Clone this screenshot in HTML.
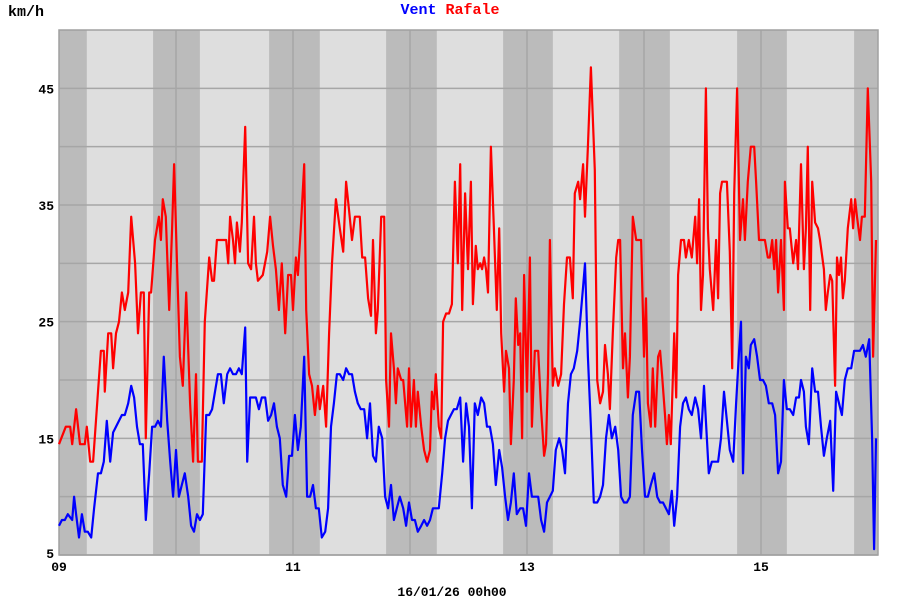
<!DOCTYPE html>
<html><head><meta charset="utf-8"><style>
body{margin:0;background:#fff;}
svg{display:block;font-family:"Liberation Mono",monospace;font-weight:bold;}
</style></head><body>
<svg id="chart" width="900" height="600" xmlns="http://www.w3.org/2000/svg">
<text x="8" y="16" font-size="15">km/h</text>
<text x="450" y="14" font-size="15" text-anchor="middle"><tspan fill="#0000ff">Vent</tspan> <tspan fill="#ff0000">Rafale</tspan></text>
<g id="plot"></g>
<text x="452" y="596" font-size="13" text-anchor="middle">16/01/26 00h00</text>
</svg>
<script>
// hours since 09 00h00
const nightStart=[-5,19.3,43.1,67.1,91.1,114.9,139.1,163.1];
const nightEnd=[5.7,28.9,53.5,77.5,101.3,125.3,149.3,173];
const yTicks=[5,15,25,35,45];
const xTickLabels=["09","11","13","15"];
const xTickHours=[0,48,96,144];
const gustT=[0,1.4,2.3,2.7,3.5,4.3,5.3,5.7,6.4,7.0,8.0,8.6,9.2,9.4,10.1,10.7,11.1,11.7,12.3,12.9,13.5,14.2,14.8,15.6,16.2,16.8,17.4,17.8,18.5,18.9,19.7,20.5,20.9,21.3,21.9,22.6,23.2,23.6,24.2,24.8,25.4,26.1,26.9,27.5,28.1,28.5,29.3,29.9,30.8,31.4,31.8,32.4,33.2,34.3,34.7,35.1,35.7,36.1,36.5,37.1,37.5,38.2,38.8,39.4,40.0,40.4,40.8,41.8,42.7,43.3,43.9,44.5,45.1,45.7,46.4,47.0,47.6,48.0,48.6,49.0,49.6,50.3,50.7,51.3,51.9,52.5,53.1,53.5,54.2,54.8,55.4,56.0,56.8,57.6,58.3,58.9,59.5,60.1,60.7,61.7,62.2,62.8,63.4,64.0,64.4,65.0,65.4,66.1,66.7,67.1,67.7,68.1,68.7,69.1,69.5,70.2,70.6,71.4,71.8,72.2,72.8,73.2,73.6,74.3,74.9,75.5,76.1,76.5,76.9,77.3,77.9,78.4,78.8,79.4,80.0,80.6,81.2,81.8,82.3,82.7,83.3,83.9,84.5,84.9,85.5,85.9,86.4,86.8,87.2,87.6,88.0,88.6,89.2,89.8,90.3,90.7,91.3,91.7,92.3,92.7,93.3,93.7,94.2,94.6,95.0,95.4,96.0,96.6,97.0,97.6,98.3,98.9,99.5,99.9,100.3,100.7,101.3,101.7,102.4,103.0,103.6,104.2,104.8,105.4,105.8,106.5,106.9,107.5,107.9,108.5,109.1,109.9,110.4,111.0,111.6,112.0,112.6,113.0,113.6,114.3,114.7,115.1,115.7,116.1,116.7,117.1,117.7,118.4,119.0,119.4,120.0,120.4,120.8,121.4,121.8,122.3,122.9,123.3,123.7,124.3,124.7,125.1,125.5,126.2,126.6,127.0,127.6,128.2,128.6,129.2,129.8,130.5,130.9,131.3,131.7,132.1,132.7,133.1,133.5,134.2,134.8,135.2,135.6,136.0,136.6,137.0,137.6,138.1,138.5,139.1,139.7,140.3,140.7,141.3,141.9,142.6,143.0,143.6,144.2,144.8,145.4,145.8,146.3,146.7,147.1,147.5,148.1,148.7,148.9,149.5,149.9,150.6,151.2,151.6,152.2,152.8,153.2,153.6,154.1,154.5,155.1,155.7,156.1,156.9,157.3,157.7,158.2,158.6,159.2,159.6,160.0,160.4,160.8,161.2,161.8,162.5,162.9,163.3,163.7,164.3,164.7,165.3,165.9,166.6,167.0,167.6];
const gustV=[14.5,16,16,14.5,17.5,14.5,14.5,16,13,13,19,22.5,22.5,19,24,24,21,24,25,27.5,26,27.5,34,30,24,27.5,27.5,15,27.5,27.5,32,34,32,35.5,34,26,33,38.5,30,22,19.5,27.5,18,13,20.5,13,13,25,30.5,28.5,28.5,32,32,32,30,34,32,30,33.5,31,33.5,41.7,30,29.5,34,30,28.5,29,31,34,31.5,29.5,26,30,24,29,29,26,30.5,29,33,38.5,26,20.5,19.5,17,19.5,17.5,19.5,16,24,30,35.5,33,31,37,34.5,32,34,34,30.5,30.5,27,25.5,32,24,26,34,34,20,16,24,21,18,21,20,20,16,21,16,20,16,19,16,14,13,14,19,17.5,20.5,16,15,25,25.7,25.7,26.5,37,30,38.5,26,36,29.5,37,26.5,31.5,29.5,30,29.5,30.5,29.5,27.5,40,33,26,33,24,19,22.5,21,14.5,20,27,23,24,15,29,19,30.5,16,22.5,22.5,17.5,13.5,14.5,20.5,32,19.5,21,19.5,20.5,26.5,30.5,30.5,27,36,37,35.5,38.5,34,40,46.8,38,20,18,19,23,20.5,17.5,24,30.5,32,32,21,24,18.5,22,34,32,32,32,22,27,18,16,21,16,22,22.5,20.5,17,14.5,17,14.5,24,18.5,29,32,32,30.5,32,30.5,34,30,35.5,26,29,45,33,29.5,26,32,27,36,37,37,37,31,21,36,45,32,35.5,32,37,40,40,37,32,32,32,30.5,30.5,32,29.5,32,27.5,32,26,37,33,33,30,32,29.5,38.5,29.5,33,40,26,37,33.5,33,32,29.5,26,27.5,29,28.5,19.5,30.5,29,30.5,27,28.5,33,35.5,33,35.5,34,32,34,34,45,37,22,32];
const windT=[0,0.6,1.2,1.8,2.7,3.1,3.5,4.1,4.7,5.3,5.9,6.6,7.2,8.0,8.6,9.2,9.8,10.5,11.1,11.7,12.3,12.9,13.5,14.2,14.8,15.4,16.0,16.6,17.2,17.8,18.5,19.1,19.7,20.3,20.9,21.5,22.2,22.8,23.4,24.0,24.6,25.2,25.8,26.5,27.1,27.7,28.3,28.9,29.5,30.2,30.8,31.4,32.0,32.6,33.2,33.8,34.5,35.1,35.7,36.3,36.9,37.5,38.2,38.6,39.2,39.8,40.4,41.0,41.6,42.3,42.9,43.5,44.1,44.7,45.3,45.9,46.6,47.2,47.8,48.4,49.0,49.6,50.3,50.9,51.5,52.1,52.7,53.3,53.9,54.6,55.2,55.8,56.4,57.0,57.6,58.3,58.9,59.5,60.1,60.7,61.3,61.9,62.6,63.2,63.8,64.4,65.0,65.6,66.3,66.9,67.5,68.1,68.7,69.3,69.9,70.6,71.2,71.8,72.4,73.0,73.6,74.3,74.9,75.5,76.1,76.7,77.3,77.9,78.6,79.2,79.8,80.4,81.0,81.6,82.3,82.9,83.5,84.1,84.7,85.3,85.9,86.6,87.2,87.8,88.4,89.0,89.6,90.3,90.9,91.5,92.1,92.7,93.3,93.9,94.6,95.2,95.8,96.4,97.0,97.6,98.3,98.9,99.5,100.1,100.7,101.3,101.9,102.6,103.2,103.8,104.4,105.0,105.6,106.3,106.9,107.5,107.9,108.5,109.1,109.7,110.4,111.0,111.6,112.2,112.8,113.4,114.1,114.7,115.3,115.9,116.5,117.1,117.7,118.4,119.0,119.6,120.2,120.8,121.4,122.1,122.7,123.3,123.9,124.5,125.1,125.7,126.2,126.8,127.4,128.0,128.6,129.2,129.8,130.5,131.1,131.7,132.3,132.7,133.3,133.9,134.6,135.2,135.8,136.4,137.0,137.6,138.3,138.9,139.5,139.9,140.3,140.9,141.5,141.9,142.6,143.2,143.8,144.4,145.0,145.6,146.3,146.9,147.5,148.1,148.7,149.3,149.9,150.6,151.2,151.8,152.2,152.8,153.2,153.8,154.5,155.1,155.7,156.3,156.9,157.5,158.2,158.8,159.4,160.0,160.6,161.2,161.8,162.5,163.1,163.7,164.3,164.9,165.5,166.2,166.8,167.2,167.6];
const windV=[7.5,8,8,8.5,8,10,8.5,6.5,8.5,7,7,6.5,9,12,12,13,16.5,13,15.5,16,16.5,17,17,18,19.5,18.5,16,14.5,14.5,8,12,16,16,16.5,16,22,16.5,13,10,14,10,11,12,10,7.5,7,8.5,8,8.5,17,17,17.5,19,20.5,20.5,18,20.5,21,20.5,20.5,21,20.5,24.5,13,18.5,18.5,18.5,17.5,18.5,18.5,16.5,17,18,16,15,11,10,13.5,13.5,17,14,16,22,10,10,11,9,9,6.5,7,9,16,18,20.5,20.5,20,21,20.5,20.5,19,18,17.5,17.5,15,18,13.5,13,16,15,10,9,11,8,9,10,9,7.5,9.5,8,8,7,7.5,8,7.5,8,9,9,9,12,15,16.5,17,17.5,17.5,18.5,13,18,16,9,18,17,18.5,18,16,16,14.5,11,14,12.5,10,8,9.5,12,8.5,9,9,7.5,12,10,10,10,8,7,9.5,10,10.5,14,15,14,12,18,20.5,21,22.5,25,28,30,22,16,9.5,9.5,10,11,15,17,15,16,14,10,9.5,9.5,10,17,19,19,14,10,10,11,12,10,9.5,9.5,9,8.5,10.5,7.5,10,16,18,18.5,17.5,17,18.5,17.5,15,19.5,16.5,12,13,13,13,15,19,16.5,14,13,18,22.5,25,12,22,21,23,23.5,22,20,20,19.5,18,18,17,12,13,20,17.5,17.5,17,18.5,18.5,20,19,16,14.5,21,19,19,16,13.5,15,16.5,10.5,19,18,17,20,21,21,22.5,22.5,22.5,23,22,23.5,15,5.5,15];

const NS='http://www.w3.org/2000/svg';
const L=59,R=878,T=30,B=555,H0=0,H1=168,V0=5,V1=50;
const xs=h=>L+(h-H0)/(H1-H0)*(R-L);
const ys=v=>B-(v-V0)/(V1-V0)*(B-T);
const g=document.getElementById('plot');
function mk(tag,attrs){const e=document.createElementNS(NS,tag);for(const k in attrs)e.setAttribute(k,attrs[k]);g.appendChild(e);return e;}

const bg=mk('rect',{x:L,y:T,width:R-L,height:B-T,fill:'#dedede'});


for(let i=0;i<nightStart.length;i++){
  const a=Math.max(xs(nightStart[i]),L),b=Math.min(xs(nightEnd[i]),R);
  const r=mk('rect',{x:a,y:T,width:b-a,height:B-T,fill:'#bbbbbb'});
  
  
}
for(let v=V0;v<V1;v+=5){
  const y=ys(v);
  const l=mk('line',{x1:L,x2:R,y1:y,y2:y,stroke:'#a6a6a6','stroke-width':1.5});
  
  
}
for(let d=24;d<H1;d+=24){
  const x=xs(d);
  const l=mk('line',{x1:x,x2:x,y1:T,y2:B,stroke:'#a6a6a6','stroke-width':1.5});
  
  
}
const border=mk('rect',{x:L,y:T,width:R-L,height:B-T,fill:'none',stroke:'#a0a0a0','stroke-width':1.5});


yTicks.forEach(v=>{
  const t=mk('text',{x:54,y:ys(v)+(v===5?3:5),'font-size':13,'text-anchor':'end'});
  t.textContent=String(v);
  
  
});
xTickLabels.forEach((s,i)=>{
  const t=mk('text',{x:xs(xTickHours[i]),y:571,'font-size':13,'text-anchor':'middle'});
  t.textContent=s;
  
  
});
function series(tArr,vArr,color,name){
  const p=tArr.map((t,i)=>xs(t).toFixed(1)+','+ys(vArr[i]).toFixed(1)).join(' ');
  const pl=mk('polyline',{points:p,fill:'none',stroke:color,'stroke-width':2.2,'stroke-linejoin':'round'});
  
  
}
series(gustT,gustV,'#ff0000','rafale-line');
series(windT,windV,'#0000ff','vent-line');
</script>
</body></html>
